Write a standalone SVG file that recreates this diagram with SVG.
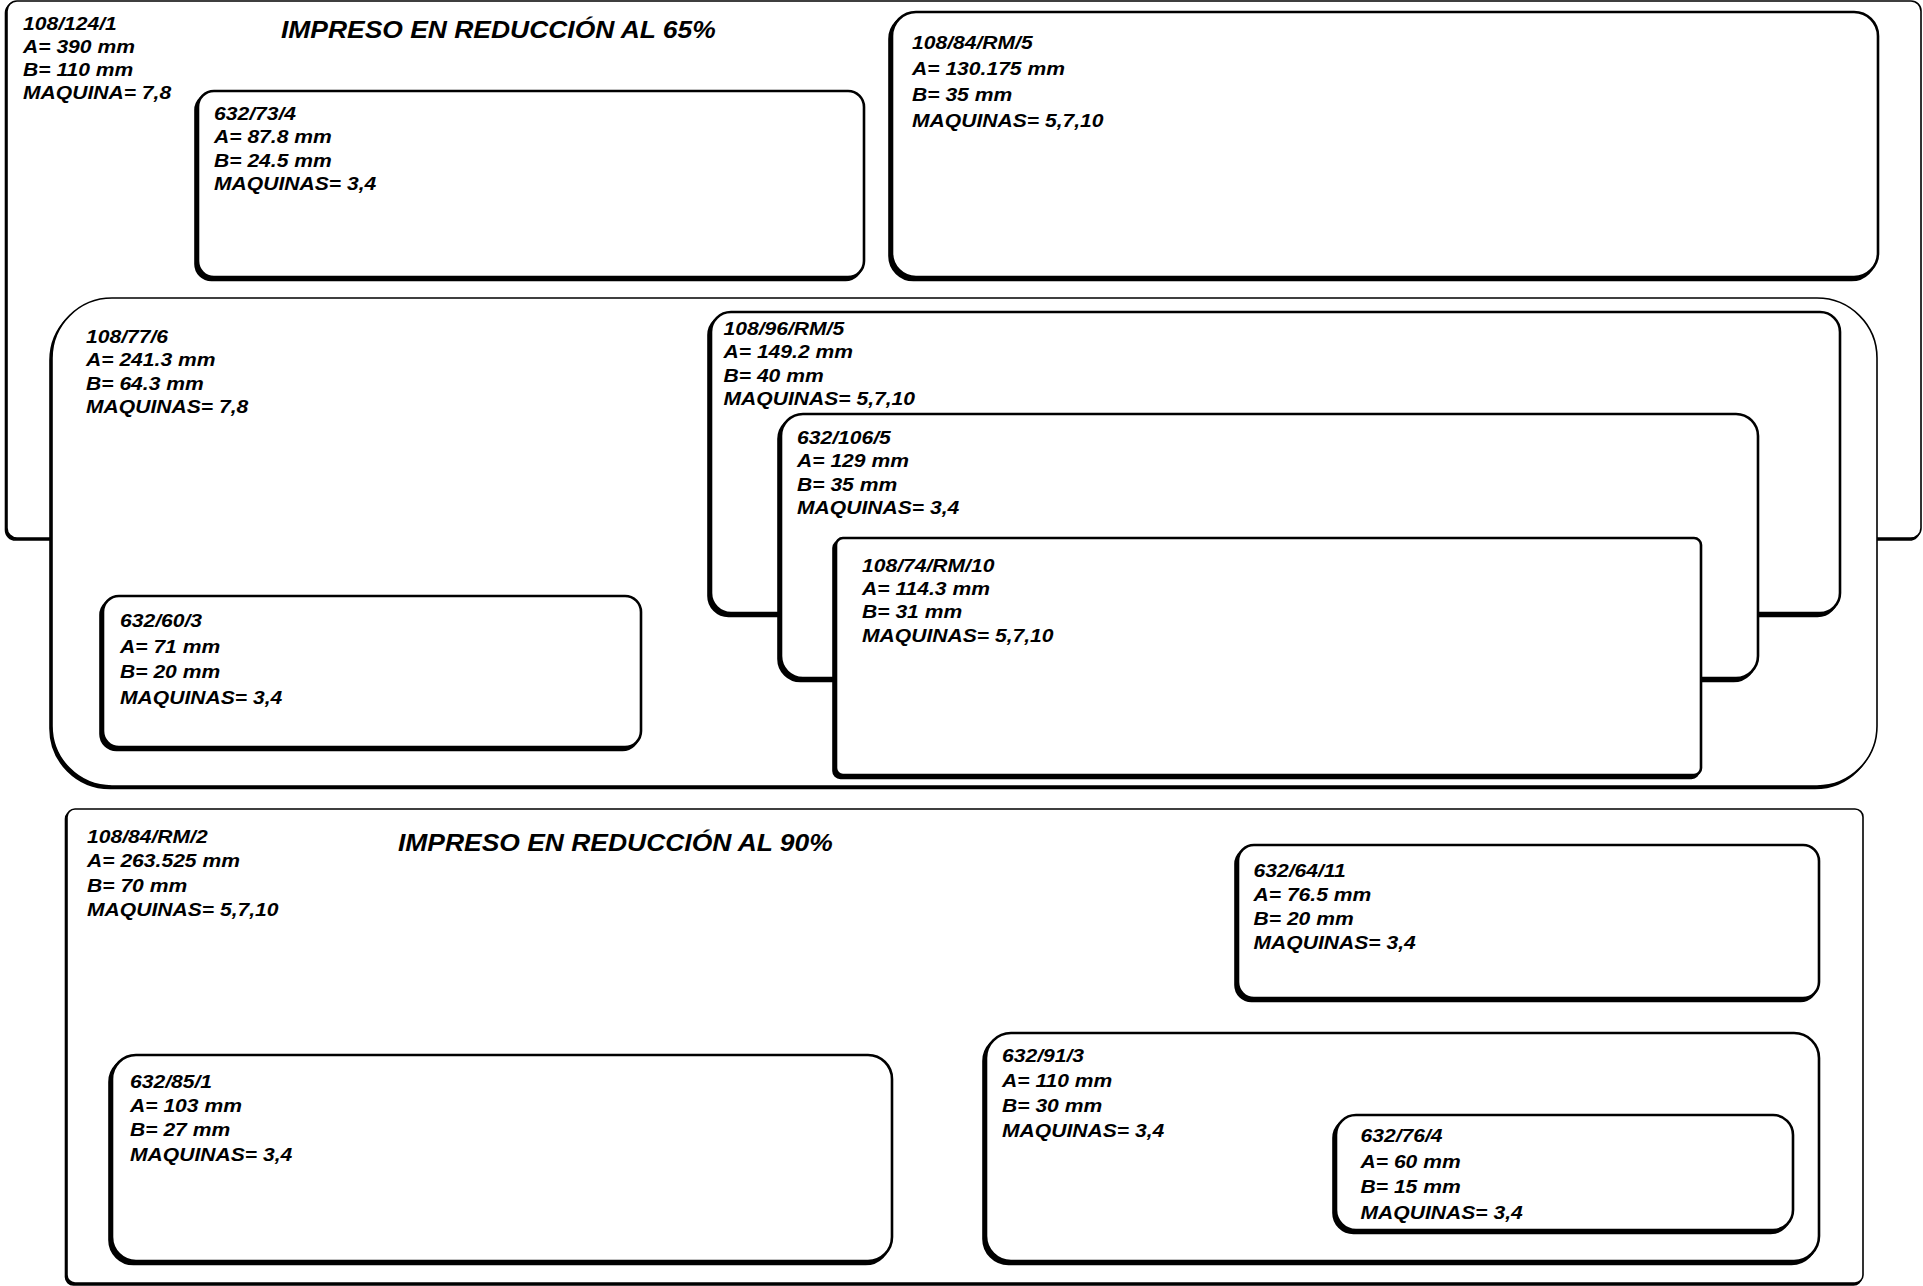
<svg xmlns="http://www.w3.org/2000/svg" width="1923" height="1286" viewBox="0 0 1923 1286">
<style>
  .bg{fill:#ffffff}
  .big{fill:#ffffff;stroke:#000;stroke-width:1.6}
  .bigsh{fill:#000;stroke:#000;stroke-width:1.6}
  .box{fill:#ffffff;stroke:#000;stroke-width:2.6}
  .sh{fill:#000;stroke:#000;stroke-width:2.6}
  .lbl{font-family:"Liberation Sans",Arial,sans-serif;font-weight:bold;font-style:italic;font-size:18.5px;fill:#000}
  .ttl{font-family:"Liberation Sans",Arial,sans-serif;font-weight:bold;font-style:italic;font-size:23.2px;fill:#000}
</style>
<rect class="bg" x="0" y="0" width="1923" height="1286"/>

<g id="n108-124-1">
  <rect class="bigsh" x="7" y="1" width="1914" height="537" rx="10" transform="translate(-1.5,2)"/>
  <rect class="big" x="7" y="1" width="1914" height="537" rx="10"/>
  <text class="lbl" transform="translate(23,29.5) scale(1.14,1)"><tspan x="0" y="0">108/124/1</tspan><tspan x="0" y="23.3">A= 390 mm</tspan><tspan x="0" y="46.6">B= 110 mm</tspan><tspan x="0" y="69.9">MAQUINA= 7,8</tspan></text>
  <text class="ttl" transform="translate(281,38) scale(1.14,1)">IMPRESO EN REDUCCIÓN AL 65%</text>
</g>

<g id="n632-73-4">
  <rect class="sh" x="198" y="91" width="666" height="186" rx="16" transform="translate(-2.5,3)"/>
  <rect class="box" x="198" y="91" width="666" height="186" rx="16"/>
  <text class="lbl" transform="translate(214,120) scale(1.14,1)"><tspan x="0" y="0">632/73/4</tspan><tspan x="0" y="23.5">A= 87.8 mm</tspan><tspan x="0" y="47">B= 24.5 mm</tspan><tspan x="0" y="70.5">MAQUINAS= 3,4</tspan></text>
</g>

<g id="n108-84-RM-5">
  <rect class="sh" x="892" y="12" width="986" height="265" rx="24" transform="translate(-2.5,3)"/>
  <rect class="box" x="892" y="12" width="986" height="265" rx="24"/>
  <text class="lbl" transform="translate(912,49.3) scale(1.14,1)"><tspan x="0" y="0">108/84/RM/5</tspan><tspan x="0" y="26">A= 130.175 mm</tspan><tspan x="0" y="52">B= 35 mm</tspan><tspan x="0" y="78">MAQUINAS= 5,7,10</tspan></text>
</g>

<g id="n108-77-6">
  <rect class="bigsh" x="52" y="298" width="1825" height="488" rx="60" transform="translate(-2,2.5)"/>
  <rect class="big" x="52" y="298" width="1825" height="488" rx="60"/>
  <text class="lbl" transform="translate(86,343) scale(1.14,1)"><tspan x="0" y="0">108/77/6</tspan><tspan x="0" y="23.3">A= 241.3 mm</tspan><tspan x="0" y="46.6">B= 64.3 mm</tspan><tspan x="0" y="69.9">MAQUINAS= 7,8</tspan></text>
</g>

<g id="n632-60-3">
  <rect class="sh" x="103" y="596" width="538" height="151" rx="16" transform="translate(-2.5,3)"/>
  <rect class="box" x="103" y="596" width="538" height="151" rx="16"/>
  <text class="lbl" transform="translate(120,627) scale(1.14,1)"><tspan x="0" y="0">632/60/3</tspan><tspan x="0" y="25.7">A= 71 mm</tspan><tspan x="0" y="51.4">B= 20 mm</tspan><tspan x="0" y="77.1">MAQUINAS= 3,4</tspan></text>
</g>

<g id="n108-96-RM-5">
  <rect class="sh" x="711" y="312" width="1129" height="301" rx="20" transform="translate(-2.5,3)"/>
  <rect class="box" x="711" y="312" width="1129" height="301" rx="20"/>
  <text class="lbl" transform="translate(723.5,335) scale(1.14,1)"><tspan x="0" y="0">108/96/RM/5</tspan><tspan x="0" y="23.5">A= 149.2 mm</tspan><tspan x="0" y="47">B= 40 mm</tspan><tspan x="0" y="70.5">MAQUINAS= 5,7,10</tspan></text>
</g>

<g id="n632-106-5">
  <rect class="sh" x="781" y="414" width="977" height="264" rx="22" transform="translate(-2.5,3)"/>
  <rect class="box" x="781" y="414" width="977" height="264" rx="22"/>
  <text class="lbl" transform="translate(797,444) scale(1.14,1)"><tspan x="0" y="0">632/106/5</tspan><tspan x="0" y="23.4">A= 129 mm</tspan><tspan x="0" y="46.8">B= 35 mm</tspan><tspan x="0" y="70.2">MAQUINAS= 3,4</tspan></text>
</g>

<g id="n108-74-RM-10">
  <rect class="sh" x="836" y="538" width="865" height="237" rx="7" transform="translate(-2.5,3)"/>
  <rect class="box" x="836" y="538" width="865" height="237" rx="7"/>
  <text class="lbl" transform="translate(862,571.7) scale(1.14,1)"><tspan x="0" y="0">108/74/RM/10</tspan><tspan x="0" y="23.3">A= 114.3 mm</tspan><tspan x="0" y="46.6">B= 31 mm</tspan><tspan x="0" y="69.9">MAQUINAS= 5,7,10</tspan></text>
</g>

<g id="n108-84-RM-2">
  <rect class="bigsh" x="67" y="809" width="1796" height="474" rx="8" transform="translate(-1.5,2)"/>
  <rect class="big" x="67" y="809" width="1796" height="474" rx="8"/>
  <text class="lbl" transform="translate(87,843) scale(1.14,1)"><tspan x="0" y="0">108/84/RM/2</tspan><tspan x="0" y="24.3">A= 263.525 mm</tspan><tspan x="0" y="48.6">B= 70 mm</tspan><tspan x="0" y="72.9">MAQUINAS= 5,7,10</tspan></text>
  <text class="ttl" transform="translate(398,851) scale(1.14,1)">IMPRESO EN REDUCCIÓN AL 90%</text>
</g>

<g id="n632-85-1">
  <rect class="sh" x="112" y="1055" width="780" height="206" rx="24" transform="translate(-2.5,3)"/>
  <rect class="box" x="112" y="1055" width="780" height="206" rx="24"/>
  <text class="lbl" transform="translate(130,1088) scale(1.14,1)"><tspan x="0" y="0">632/85/1</tspan><tspan x="0" y="24.2">A= 103 mm</tspan><tspan x="0" y="48.4">B= 27 mm</tspan><tspan x="0" y="72.6">MAQUINAS= 3,4</tspan></text>
</g>

<g id="n632-64-11">
  <rect class="sh" x="1238" y="845" width="581" height="153" rx="16" transform="translate(-2.5,3)"/>
  <rect class="box" x="1238" y="845" width="581" height="153" rx="16"/>
  <text class="lbl" transform="translate(1253.5,877) scale(1.14,1)"><tspan x="0" y="0">632/64/11</tspan><tspan x="0" y="24">A= 76.5 mm</tspan><tspan x="0" y="48">B= 20 mm</tspan><tspan x="0" y="72">MAQUINAS= 3,4</tspan></text>
</g>

<g id="n632-91-3">
  <rect class="sh" x="986" y="1033" width="833" height="228" rx="25" transform="translate(-2.5,3)"/>
  <rect class="box" x="986" y="1033" width="833" height="228" rx="25"/>
  <text class="lbl" transform="translate(1002,1062) scale(1.14,1)"><tspan x="0" y="0">632/91/3</tspan><tspan x="0" y="25">A= 110 mm</tspan><tspan x="0" y="50">B= 30 mm</tspan><tspan x="0" y="75">MAQUINAS= 3,4</tspan></text>
</g>

<g id="n632-76-4">
  <rect class="sh" x="1336" y="1115" width="457" height="115" rx="20" transform="translate(-2.5,3)"/>
  <rect class="box" x="1336" y="1115" width="457" height="115" rx="20"/>
  <text class="lbl" transform="translate(1360.5,1142) scale(1.14,1)"><tspan x="0" y="0">632/76/4</tspan><tspan x="0" y="25.7">A= 60 mm</tspan><tspan x="0" y="51.4">B= 15 mm</tspan><tspan x="0" y="77.1">MAQUINAS= 3,4</tspan></text>
</g>

<g id="connectors"></g>
</svg>
